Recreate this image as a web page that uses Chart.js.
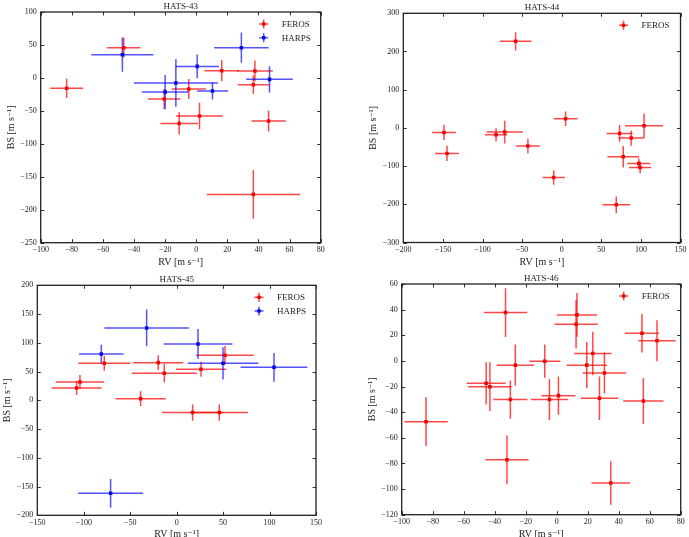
<!DOCTYPE html>
<html><head><meta charset="utf-8">
<script src="https://cdn.jsdelivr.net/npm/chart.js@4"></script>
<style>
html,body{margin:0;padding:0;background:#fff;}
#wrap{position:relative;width:689px;height:537px;overflow:hidden;background:#fff;}
canvas{position:absolute;left:0;top:0;}
</style></head><body><div id="wrap">
<canvas id="c43" width="689" height="537"></canvas>
<canvas id="c44" width="689" height="537"></canvas>
<canvas id="c45" width="689" height="537"></canvas>
<canvas id="c46" width="689" height="537"></canvas>
</div>
<script>
// ---------------- DATA ----------------
// HATS-43
const h43_feros_rv    = [-83.3, -46.6, -20.6, -4.8, -11.0, 2.1, 16.4, 37.7, 36.7, 46.5, 36.7];
const h43_feros_bs    = [-15.8, 45.9, -32.0, -16.8, -69.0, -57.8, 11.0, 10.5, -10.3, -65.4, -176.7];
const h43_feros_rvErr = [10.6, 10.7, 10.5, 11, 12, 15, 11, 11.5, 10, 11, 30];
const h43_feros_bsErr = [14.5, 15, 15, 15, 17, 20, 16, 16, 14, 16, 37];
const h43_harps_rv    = [-47.5, -20.0, -13.1, 0.6, 10.4, 29.0, 47.1];
const h43_harps_bs    = [35.3, -21.4, -7.7, 17.5, -19.9, 45.9, -2.2];
const h43_harps_rvErr = [20, 15, 27, 14, 10, 17.5, 15];
const h43_harps_bsErr = [26, 26, 36, 18, 13, 23, 20];
const h43_xTicks = [-100, -80, -60, -40, -20, 0, 20, 40, 60, 80];
const h43_yTicks = [-250, -200, -150, -100, -50, 0, 50, 100];

// HATS-44
const h44_feros_rv    = [-148.6, -144.8, -82.9, -72.0, -58.2, -42.7, -10.1, 4.9, 73.1, 87.7, 104.0, 77.7, 97.4, 99.0, 68.9];
const h44_feros_bs    = [-11.8, -66.8, -17.9, -11.0, 226.6, -47.6, -129.7, 24.0, -14.4, -26.6, 5.7, -75.5, -93.0, -103.5, -201.3];
const h44_feros_rvErr = [15, 15, 14, 23, 20, 15, 14, 15, 16.5, 16, 24, 20, 14.5, 14, 17.5];
const h44_feros_bsErr = [20, 20, 17, 30, 24, 19, 19, 19, 22, 20, 32, 28, 13, 15, 22];
const h44_xTicks = [-200, -150, -100, -50, 0, 50, 100, 150];
const h44_yTicks = [-300, -200, -100, 0, 100, 200, 300];

// HATS-45
const h45_feros_rv    = [-107.7, -104.1, -77.9, -38.8, -19.8, -13.3, 17.2, 26.2, 45.9, 52.0];
const h45_feros_bs    = [21.4, 31.9, 64.3, 2.9, 65.5, 47.0, -21.4, 53.9, -21.4, 78.3];
const h45_feros_rvErr = [27, 26, 28, 27, 27, 35, 33, 27, 31, 31];
const h45_feros_bsErr = [12, 12, 13, 13, 13, 16, 14, 13, 14, 16];
const h45_harps_rv    = [-81.1, -32.3, 23.0, 49.9, 104.8, -71.1];
const h45_harps_bs    = [80.6, 125.8, 98.0, 64.3, 57.4, -161.7];
const h45_harps_rvErr = [24, 45.5, 37, 38, 36, 35];
const h45_harps_bsErr = [16, 32, 26, 28, 25, 25];
const h45_xTicks = [-150, -100, -50, 0, 50, 100, 150];
const h45_yTicks = [-200, -150, -100, -50, 0, 50, 100, 150, 200];

// HATS-46
const h46_feros_rv    = [-84.3, -45.5, -43.1, -33.0, -32.1, -29.9, -26.7, -7.7, -4.7, 1.1, 12.5, 13.1, 19.4, 23.3, 30.8, 27.6, 34.9, 55.0, 55.9, 64.7];
const h46_feros_bs    = [-47.4, -17.5, -20.1, 37.7, -77.2, -30.2, -3.3, -0.2, -30.2, -27.1, 28.6, 35.9, -3.3, 5.8, -9.5, -29.2, -95.3, 21.6, -31.3, 15.7];
const h46_feros_rvErr = [14, 12.5, 14, 14, 14, 11, 12, 10, 12, 11, 14, 13, 13, 12, 14, 12, 12.5, 11, 13, 12];
const h46_feros_bsErr = [19, 16.5, 19, 19, 19, 15, 16, 13, 16, 15, 19, 17, 18, 17, 16, 17, 17, 15, 18, 16];
const h46_xTicks = [-100, -80, -60, -40, -20, 0, 20, 40, 60, 80];
const h46_yTicks = [-120, -100, -80, -60, -40, -20, 0, 20, 40, 60];

const xLabel = 'RV [m s\u207B\u00B9]';
const yLabel = 'BS [m s\u207B\u00B9]';

// ---------------- STYLE / HELPERS ----------------
const FONT = '"Liberation Serif", "Times New Roman", "DejaVu Serif", serif';
Chart.defaults.font.family = FONT;
Chart.defaults.color = '#222';

const RED = {line: 'rgba(255,0,0,0.72)', mark: 'rgba(235,0,0,0.95)'};
const BLUE = {line: 'rgba(0,0,255,0.68)', mark: 'rgba(0,0,225,0.95)'};

function series(label, col, rv, bs, rvErr, bsErr) {
  return {
    label,
    data: rv.map((v, i) => ({x: v, y: bs[i], xErr: rvErr[i], yErr: bsErr[i]})),
    backgroundColor: col.mark,
    borderColor: col.mark,
    borderWidth: 0,
    pointStyle: 'rect',
    pointRadius: 2.5,
    errColor: col.line
  };
}

const fmt = v => (v < 0 ? '\u2212' + Math.abs(v) : String(v));

const errorBarPlugin = {
  id: 'errorBars',
  beforeDatasetsDraw(chart) {
    const {ctx, chartArea: a, scales: {x, y}} = chart;
    ctx.save();
    ctx.beginPath();
    ctx.rect(a.left, a.top, a.width, a.height);
    ctx.clip();
    ctx.lineWidth = 1.5;
    chart.data.datasets.forEach(ds => {
      ctx.strokeStyle = ds.errColor;
      ds.data.forEach(p => {
        const px = x.getPixelForValue(p.x), py = y.getPixelForValue(p.y);
        const x0 = x.getPixelForValue(p.x - p.xErr), x1 = x.getPixelForValue(p.x + p.xErr);
        const y0 = y.getPixelForValue(p.y - p.yErr), y1 = y.getPixelForValue(p.y + p.yErr);
        ctx.beginPath();
        ctx.moveTo(x0, py); ctx.lineTo(x1, py);
        ctx.moveTo(px, y0); ctx.lineTo(px, y1);
        ctx.stroke();
      });
    });
    ctx.restore();
  }
};

const framePlugin = {
  id: 'frame',
  afterDatasetsDraw(chart) {
    const {ctx, chartArea: a, scales: {x, y}} = chart;
    const L = 3.5;
    ctx.save();
    ctx.strokeStyle = '#333';
    ctx.lineWidth = 1;
    ctx.beginPath();
    x.ticks.forEach(t => {
      const p = Math.round(x.getPixelForValue(t.value)) + 0.5;
      ctx.moveTo(p, a.bottom); ctx.lineTo(p, a.bottom - L);
      ctx.moveTo(p, a.top); ctx.lineTo(p, a.top + L);
    });
    y.ticks.forEach(t => {
      const p = Math.round(y.getPixelForValue(t.value)) + 0.5;
      ctx.moveTo(a.left, p); ctx.lineTo(a.left + L, p);
      ctx.moveTo(a.right, p); ctx.lineTo(a.right - L, p);
    });
    ctx.stroke();
    ctx.lineWidth = 1.3;
    ctx.strokeStyle = '#222';
    ctx.strokeRect(a.left, a.top, a.width, a.height);
    ctx.restore();
  }
};

const legendPlugin = {
  id: 'innerLegend',
  afterDraw(chart) {
    const {ctx, chartArea: a} = chart;
    ctx.save();
    chart.data.datasets.forEach((ds, i) => {
      const gy = a.top + 12 + i * 13.7;
      const gx = a.right - 57;
      ctx.strokeStyle = ds.errColor;
      ctx.lineWidth = 1.5;
      ctx.beginPath();
      ctx.moveTo(gx - 4.5, gy); ctx.lineTo(gx + 4.5, gy);
      ctx.moveTo(gx, gy - 4.5); ctx.lineTo(gx, gy + 4.5);
      ctx.stroke();
      ctx.fillStyle = ds.backgroundColor;
      ctx.fillRect(gx - 1.7, gy - 1.7, 3.4, 3.4);
      ctx.fillStyle = '#222';
      ctx.font = '9px ' + FONT;
      ctx.textBaseline = 'middle';
      ctx.textAlign = 'left';
      ctx.fillText(ds.label, a.right - 39, gy + 0.5);
    });
    ctx.restore();
  }
};

function makeChart(id, title, datasets, xTicks, yTicks, rect) {
  const [L, T, R, B] = rect;
  const W = 689, H = 537;
  const yAxisW = 35.5, xAxisH = 25.5, titleH = 10.8;
  return new Chart(document.getElementById(id), {
    type: 'scatter',
    data: {datasets},
    options: {
      responsive: false,
      animation: false,
      devicePixelRatio: 1,
      layout: {padding: {left: L - yAxisW, top: T - titleH, right: W - R, bottom: H - B - xAxisH}},
      plugins: {
        legend: {display: false},
        tooltip: {enabled: false},
        title: {display: true, text: title, fullSize: false, color: '#222',
                font: {size: 9, weight: 'normal', family: FONT, lineHeight: 1.2},
                padding: {top: 0, bottom: 0}}
      },
      scales: {
        x: {
          type: 'linear', min: xTicks[0], max: xTicks[xTicks.length - 1],
          afterBuildTicks: s => { s.ticks = xTicks.map(v => ({value: v})); },
          afterFit: s => { s.height = xAxisH; },
          grid: {display: false, drawTicks: false, tickLength: 0},
          border: {display: false},
          ticks: {callback: fmt, padding: 2.5, maxRotation: 0, autoSkip: false, color: '#222',
                  font: {size: 8, family: FONT, lineHeight: 1.2}},
          title: {display: true, text: xLabel, color: '#222', padding: 0,
                  font: {size: 10, family: FONT, lineHeight: 1.2}}
        },
        y: {
          type: 'linear', min: yTicks[0], max: yTicks[yTicks.length - 1],
          afterBuildTicks: s => { s.ticks = yTicks.map(v => ({value: v})); },
          afterFit: s => { s.width = yAxisW; },
          grid: {display: false, drawTicks: false, tickLength: 0},
          border: {display: false},
          ticks: {callback: fmt, padding: 4, autoSkip: false, color: '#222',
                  font: {size: 8, family: FONT, lineHeight: 1.2}},
          title: {display: true, text: yLabel, color: '#222', padding: 0,
                  font: {size: 10, family: FONT, lineHeight: 1.2}}
        }
      }
    },
    plugins: [errorBarPlugin, framePlugin, legendPlugin]
  });
}

makeChart('c43', 'HATS-43', [
  series('FEROS', RED, h43_feros_rv, h43_feros_bs, h43_feros_rvErr, h43_feros_bsErr),
  series('HARPS', BLUE, h43_harps_rv, h43_harps_bs, h43_harps_rvErr, h43_harps_bsErr)
], h43_xTicks, h43_yTicks, [40.7, 12, 320.7, 242.7]);

makeChart('c44', 'HATS-44', [
  series('FEROS', RED, h44_feros_rv, h44_feros_bs, h44_feros_rvErr, h44_feros_bsErr)
], h44_xTicks, h44_yTicks, [403.3, 13.3, 682, 242.5]);

makeChart('c45', 'HATS-45', [
  series('FEROS', RED, h45_feros_rv, h45_feros_bs, h45_feros_rvErr, h45_feros_bsErr),
  series('HARPS', BLUE, h45_harps_rv, h45_harps_bs, h45_harps_rvErr, h45_harps_bsErr)
], h45_xTicks, h45_yTicks, [37.3, 285.3, 316, 515.3]);

makeChart('c46', 'HATS-46', [
  series('FEROS', RED, h46_feros_rv, h46_feros_bs, h46_feros_rvErr, h46_feros_bsErr)
], h46_xTicks, h46_yTicks, [401.7, 284, 680.7, 514.7]);
</script>
</body></html>
